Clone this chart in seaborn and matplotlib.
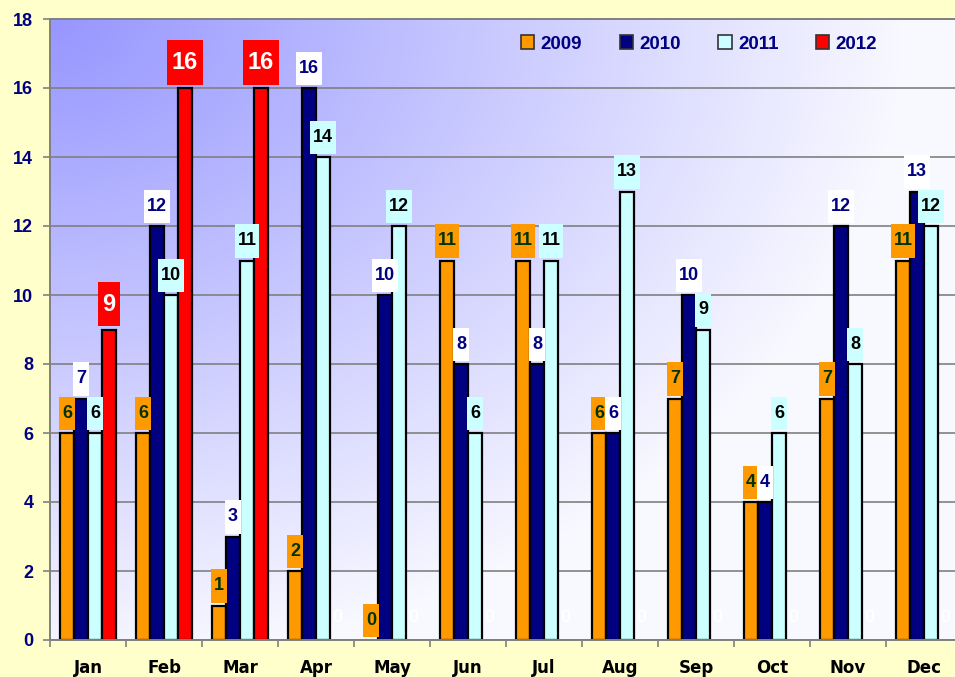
import matplotlib
matplotlib.use("Agg")
import matplotlib.pyplot as plt
from matplotlib.path import Path
import numpy as np
import pandas as pd
import seaborn as sns

# Data
MONTHS = ["Jan", "Feb", "Mar", "Apr", "May", "Jun",
          "Jul", "Aug", "Sep", "Oct", "Nov", "Dec"]
YEARS = ["2009", "2010", "2011", "2012"]
VALUES_2009 = [6, 6, 1, 2, 0, 11, 11, 6, 7, 4, 7, 11]
VALUES_2010 = [7, 12, 3, 16, 10, 8, 8, 6, 10, 4, 12, 13]
VALUES_2011 = [6, 10, 11, 14, 12, 6, 11, 13, 9, 6, 8, 12]
VALUES_2012 = [9, 16, 16, 0, 0, 0, 0, 0, 0, 0, 0, 0]
Y_TICKS = list(range(0, 20, 2))

BAR_COLORS = {"2009": "#FF9900", "2010": "#000080", "2011": "#CCFFFF", "2012": "#FF0000"}
LABEL_STYLE = {
    "2009": {"color": "#003300", "fc": "#FF9900", "size": 13, "pad": 8.0, "px": 0.15},
    "2010": {"color": "#000080", "fc": "#FFFFFF", "size": 13, "pad": 8.0, "px": 0.15},
    "2011": {"color": "#000000", "fc": "#CCFFFF", "size": 13, "pad": 8.0, "px": 0.15},
    "2012": {"color": "#FFFFFF", "fc": "#FF0000", "size": 17, "pad": 10.0, "px": 0.2},
}
NAVY = "#000080"
GRID_GRAY = "#808080"
FIG_BG = "#FFFFCC"


def make_box(px_frac, py_frac=0.45):
    # narrow horizontal padding, taller vertical padding (like Excel labels)
    def box(x0, y0, width, height, mutation_size):
        px = px_frac * mutation_size
        py = py_frac * mutation_size
        x1, y1 = x0 + width + px, y0 + height + py
        x0, y0 = x0 - px, y0 - py
        return Path([(x0, y0), (x1, y0), (x1, y1), (x0, y1), (x0, y0)], closed=True)
    return box


df = pd.DataFrame({
    "month": MONTHS * 4,
    "year": [y for y in YEARS for _ in MONTHS],
    "count": VALUES_2009 + VALUES_2010 + VALUES_2011 + VALUES_2012,
})

fig = plt.figure(figsize=(9.55, 6.77), dpi=100, facecolor=FIG_BG)
ax = fig.add_axes([50 / 955, 37 / 677, 912 / 955, 621 / 677])

# corner gradient background
nx, ny = 400, 200
xx, yy = np.meshgrid(np.linspace(0, 1, nx), np.linspace(0, 1, ny))
s = np.clip(np.hypot(xx, 0.9 * yy), 0, 0.94)[..., None]
top_left = np.array([150, 150, 255]) / 255
img = top_left + (1 - top_left) * s
ax.imshow(img, extent=(-0.5, 11.5, 0, 18), origin="upper", aspect="auto", zorder=0)

sns.barplot(
    data=df, x="month", y="count", hue="year", hue_order=YEARS,
    order=MONTHS, palette=BAR_COLORS, width=0.74, gap=0, saturation=1,
    edgecolor="black", linewidth=1.6, errorbar=None, ax=ax, zorder=2,
)

for container, year in zip(ax.containers, YEARS):
    st = LABEL_STYLE[year]
    vals = [int(round(b.get_height())) for b in container]
    for bar, v in zip(container, vals):
        if v == 0:
            bar.set_linewidth(0)
    anns = ax.bar_label(
        container, labels=[str(v) for v in vals], padding=st["pad"],
        fontsize=st["size"], fontweight="bold", color=st["color"],
        family="Liberation Sans",
        bbox=dict(boxstyle=make_box(st["px"]), fc=st["fc"], ec="none"), zorder=5,
    )
    if year == "2012":
        for ann, v in zip(anns, vals):
            if v == 0:
                ann.set_bbox(None)
                ann.set_fontsize(13)

ax.set_xlim(-0.5, 11.5)
ax.set_ylim(0, 18)
ax.set_yticks(Y_TICKS)
ax.set_xticks(np.arange(-0.5, 12, 1), minor=True)
ax.set_xlabel("")
ax.set_ylabel("")

ax.yaxis.grid(True, color=GRID_GRAY, linewidth=1.2)
ax.xaxis.grid(False)
ax.set_axisbelow(True)
for line in ax.get_ygridlines():
    line.set_zorder(1)

for side in ["left", "bottom", "top"]:
    ax.spines[side].set_color(GRID_GRAY)
    ax.spines[side].set_linewidth(1.4)
ax.spines["right"].set_visible(False)

ax.tick_params(axis="y", length=5, width=1.2, color=GRID_GRAY, pad=7,
               labelsize=13, labelcolor=NAVY)
ax.tick_params(axis="x", which="major", length=0, pad=14, labelsize=12,
               labelcolor="black")
ax.tick_params(axis="x", which="minor", length=5, width=1.2, color=GRID_GRAY)
for lab in ax.get_yticklabels():
    lab.set_fontweight("bold")
    lab.set_family("Liberation Sans")
for lab in ax.get_xticklabels():
    lab.set_fontweight("bold")
    lab.set_family("DejaVu Sans")

handles, labels = ax.get_legend_handles_labels()
for h in handles:
    h.set_edgecolor("#333333")
    h.set_linewidth(1.2)
ax.legend(
    handles, labels, ncol=4, frameon=False, loc="center left",
    bbox_to_anchor=((521 - 50) / 912, 1 - (44 - 19) / 621),
    borderpad=0, borderaxespad=0, handlelength=0.7, handleheight=0.7,
    handletextpad=0.35, columnspacing=2.0,
    prop={"family": "Liberation Sans", "weight": "bold", "size": 13.5},
    labelcolor=NAVY,
)

fig.savefig("out.png", dpi=100, facecolor=FIG_BG)
